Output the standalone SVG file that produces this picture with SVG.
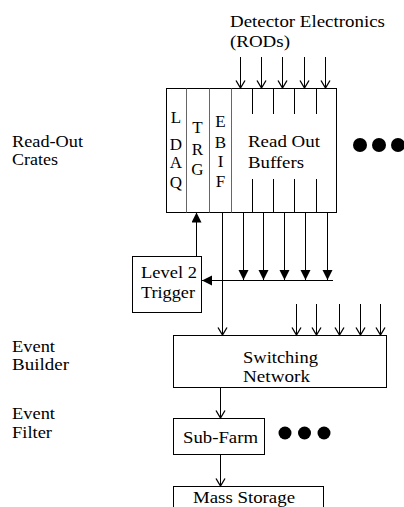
<svg xmlns="http://www.w3.org/2000/svg" width="404" height="507" viewBox="0 0 404 507">
<defs>
<style>
text{font-family:"Liberation Serif","Times New Roman",serif;font-size:17px;fill:#000}
.box{fill:#fff;stroke:#000;stroke-width:1}
.ln{fill:none;stroke:#000;stroke-width:1}
.div{fill:none;stroke:#666;stroke-width:1}
.mid{text-anchor:middle}
.open{marker-end:url(#vopen)}
.fill{marker-end:url(#tri)}
</style>
<marker id="vopen" markerUnits="userSpaceOnUse" markerWidth="10" markerHeight="12" refX="8" refY="5" orient="auto">
<path d="M0.5,0.5 L8,5 L0.5,9.5" fill="none" stroke="#000" stroke-width="1.3"/>
</marker>
<marker id="tri" markerUnits="userSpaceOnUse" markerWidth="12" markerHeight="12" refX="10" refY="5" orient="auto">
<path d="M0,0 L10,5 L0,10 z" fill="#000"/>
</marker>
</defs>
<rect width="404" height="507" fill="#fff"/>

<g id="labels">
<text x="12" y="147" textLength="71" lengthAdjust="spacingAndGlyphs">Read-Out</text>
<text x="12" y="165" textLength="46" lengthAdjust="spacingAndGlyphs">Crates</text>
<text x="12" y="352" textLength="43" lengthAdjust="spacingAndGlyphs">Event</text>
<text x="12" y="370" textLength="57" lengthAdjust="spacingAndGlyphs">Builder</text>
<text x="12" y="419" textLength="43" lengthAdjust="spacingAndGlyphs">Event</text>
<text x="12" y="437.5" textLength="40" lengthAdjust="spacingAndGlyphs">Filter</text>
</g>

<g id="detector">
<text x="230" y="27" textLength="155" lengthAdjust="spacingAndGlyphs">Detector Electronics</text>
<text x="230" y="47" textLength="60" lengthAdjust="spacingAndGlyphs">(RODs)</text>
</g>

<g id="readout-crate">
<rect class="box" x="166.5" y="88.5" width="170" height="124"/>
<line class="div" x1="186.5" y1="88.5" x2="186.5" y2="212.5"/>
<line class="div" x1="209.5" y1="88.5" x2="209.5" y2="212.5"/>
<line class="div" x1="231.5" y1="88.5" x2="231.5" y2="212.5"/>
<path class="ln" d="M252.5,88.5 V114 M252.5,179 V212.5 M273.5,88.5 V114 M273.5,179 V212.5 M294.5,88.5 V114 M294.5,179 V212.5 M316.5,88.5 V114 M316.5,179 V212.5"/>
<g class="mid">
<text x="176" y="123">L</text>
<text x="176" y="150">D</text>
<text x="176" y="168">A</text>
<text x="176" y="188">Q</text>
<text x="197.5" y="133">T</text>
<text x="197.5" y="155">R</text>
<text x="197.5" y="175">G</text>
<text x="220.5" y="127">E</text>
<text x="220.5" y="148">B</text>
<text x="220.5" y="167">I</text>
<text x="220.5" y="187">F</text>
</g>
<text x="248" y="147" textLength="72" lengthAdjust="spacingAndGlyphs">Read Out</text>
<text x="248" y="168" textLength="56" lengthAdjust="spacingAndGlyphs">Buffers</text>
</g>

<g id="dots-crates">
<circle cx="360" cy="145" r="7"/>
<circle cx="379" cy="145" r="7"/>
<circle cx="398" cy="145" r="7"/>
</g>

<g id="level2">
<rect class="box" x="132.5" y="256.5" width="69" height="56"/>
<text x="141" y="278" textLength="56" lengthAdjust="spacingAndGlyphs">Level 2</text>
<text x="141" y="298" textLength="54" lengthAdjust="spacingAndGlyphs">Trigger</text>
</g>

<g id="switching">
<rect class="box" x="173.5" y="335.5" width="213" height="52"/>
<text x="243" y="363" textLength="75" lengthAdjust="spacingAndGlyphs">Switching</text>
<text x="243" y="382" textLength="67" lengthAdjust="spacingAndGlyphs">Network</text>
</g>

<g id="subfarm">
<rect class="box" x="173.5" y="418.5" width="91" height="36"/>
<text x="183" y="443" textLength="75" lengthAdjust="spacingAndGlyphs">Sub-Farm</text>
</g>

<g id="dots-farm">
<circle cx="285" cy="433" r="6.5"/>
<circle cx="304.5" cy="433" r="6.5"/>
<circle cx="324" cy="433" r="6.5"/>
</g>

<g id="mass-storage">
<rect class="box" x="173.5" y="486.5" width="150" height="40"/>
<text x="193" y="503" textLength="102" lengthAdjust="spacingAndGlyphs">Mass Storage</text>
</g>

<g id="connectors">
<line class="ln open" x1="240.5" y1="57" x2="240.5" y2="88"/>
<line class="ln open" x1="261.5" y1="57" x2="261.5" y2="88"/>
<line class="ln open" x1="282.5" y1="57" x2="282.5" y2="88"/>
<line class="ln open" x1="304.5" y1="57" x2="304.5" y2="88"/>
<line class="ln open" x1="325.5" y1="57" x2="325.5" y2="88"/>

<line class="ln fill" x1="243.5" y1="212.5" x2="243.5" y2="280"/>
<line class="ln fill" x1="263.5" y1="212.5" x2="263.5" y2="280"/>
<line class="ln fill" x1="284.5" y1="212.5" x2="284.5" y2="280"/>
<line class="ln fill" x1="305.5" y1="212.5" x2="305.5" y2="280"/>
<line class="ln fill" x1="327.5" y1="212.5" x2="327.5" y2="280"/>
<line class="ln fill" x1="333" y1="280.5" x2="202" y2="280.5"/>

<line class="ln fill" x1="196.5" y1="256.5" x2="196.5" y2="212.5"/>
<line class="ln open" x1="222.5" y1="212.5" x2="222.5" y2="335"/>

<line class="ln open" x1="296.5" y1="304" x2="296.5" y2="335"/>
<line class="ln open" x1="316.5" y1="304" x2="316.5" y2="335"/>
<line class="ln open" x1="339.5" y1="304" x2="339.5" y2="335"/>
<line class="ln open" x1="360.5" y1="304" x2="360.5" y2="335"/>
<line class="ln open" x1="380.5" y1="304" x2="380.5" y2="335"/>

<line class="ln open" x1="220.5" y1="387.5" x2="220.5" y2="418"/>
<line class="ln open" x1="220.5" y1="454.5" x2="220.5" y2="486"/>
</g>
</svg>
